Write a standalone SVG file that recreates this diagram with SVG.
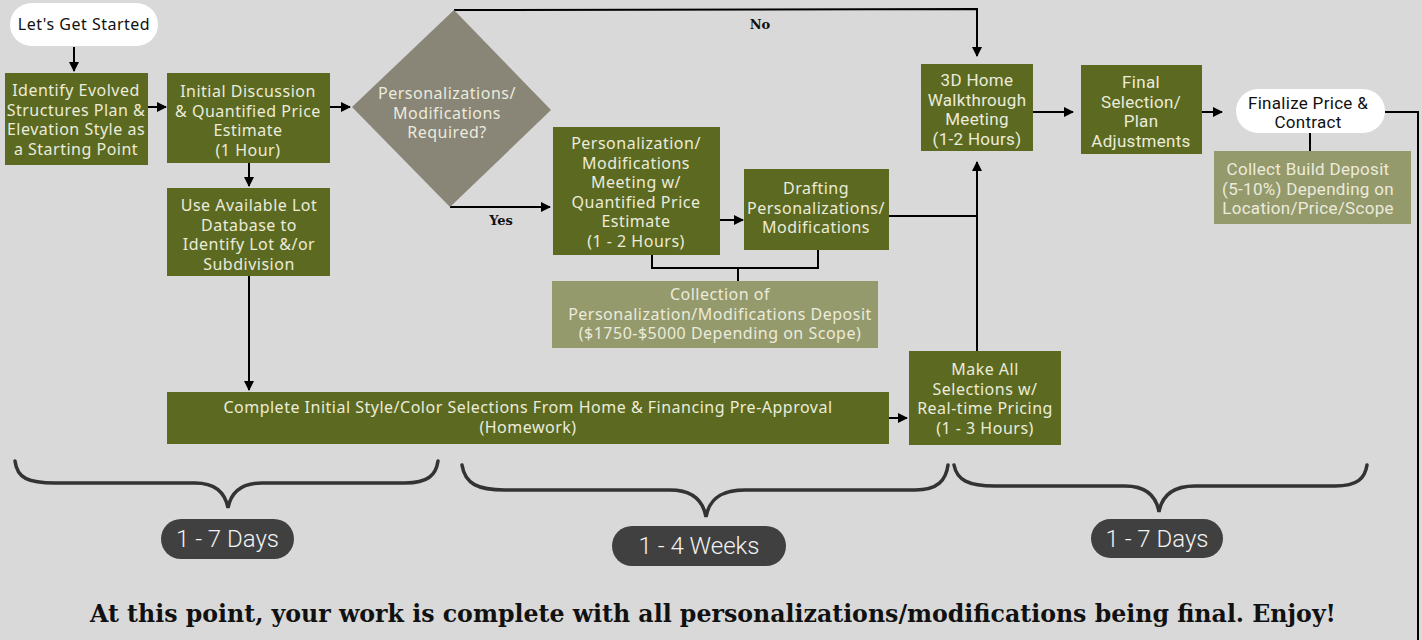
<svg xmlns="http://www.w3.org/2000/svg" width="1422" height="640" viewBox="0 0 1422 640">
<defs>
<marker id="ah" viewBox="0 0 10 10" refX="9" refY="5" markerWidth="10" markerHeight="10" markerUnits="userSpaceOnUse" orient="auto">
<path d="M0,0 L10,5 L0,10 Z" fill="#000"/>
</marker>
<style>
.g{fill:#5b6a20}
.lg{fill:#949a6c}
.t{font-family:"Noto Sans","DejaVu Sans",sans-serif;font-size:16px;letter-spacing:0.5px;fill:#ecebdc;text-anchor:middle}
.tc{font-family:Roboto,"Liberation Sans",sans-serif;font-size:17px;letter-spacing:0.3px;fill:#ecebdc;text-anchor:middle}
.tk{fill:#111}
.ln{fill:none;stroke:#000;stroke-width:2}
.br{fill:none;stroke:#333;stroke-width:3.5;stroke-linecap:round}
.pill{fill:#404040}
.pt{font-family:Roboto,"Liberation Sans",sans-serif;font-size:24px;fill:#f2f2f2;text-anchor:middle;font-weight:300}
.lab{font-family:"DejaVu Serif",serif;font-weight:bold;font-size:13px;fill:#111;text-anchor:middle}
</style>
</defs>
<rect width="1422" height="640" fill="#d9d9d9"/>

<g id="connectors">
<line class="ln" x1="74" y1="47" x2="74" y2="71" marker-end="url(#ah)"/>
<line class="ln" x1="148" y1="107" x2="166" y2="107" marker-end="url(#ah)"/>
<line class="ln" x1="330" y1="107" x2="350" y2="107" marker-end="url(#ah)"/>
<line class="ln" x1="249" y1="163" x2="249" y2="186" marker-end="url(#ah)"/>
<line class="ln" x1="249" y1="276" x2="249" y2="390" marker-end="url(#ah)"/>
<polyline class="ln" points="454,10 977,9 977,56" marker-end="url(#ah)"/>
<polyline class="ln" points="450,207 550,207" marker-end="url(#ah)"/>
<line class="ln" x1="720" y1="220" x2="743" y2="220" marker-end="url(#ah)"/>
<polyline class="ln" points="652,255 652,268 818,268 818,250"/>
<line class="ln" x1="738" y1="268" x2="738" y2="281"/>
<line class="ln" x1="889" y1="216" x2="977" y2="216"/>
<line class="ln" x1="977" y1="351" x2="977" y2="162" marker-end="url(#ah)"/>
<line class="ln" x1="889" y1="418" x2="907" y2="418" marker-end="url(#ah)"/>
<line class="ln" x1="1033" y1="112" x2="1073" y2="112" marker-end="url(#ah)"/>
<line class="ln" x1="1202" y1="112" x2="1222" y2="112" marker-end="url(#ah)"/>
<line class="ln" x1="1310" y1="133" x2="1310" y2="151"/>
<polyline class="ln" points="1385,112 1418,112 1418,640"/>
<text class="lab" x="760" y="29">No</text>
<text class="lab" x="501" y="225">Yes</text>
</g>

<g id="start">
<rect x="10" y="3" width="148" height="43" rx="21.5" fill="#fff"/>
<text class="t tk" x="84" y="30">Let's Get Started</text>
</g>

<g id="identify">
<rect class="g" x="5" y="73" width="143" height="92"/>
<text class="t" x="76"><tspan x="76" y="96">Identify Evolved</tspan><tspan x="76" y="115.5">Structures Plan &amp;</tspan><tspan x="76" y="135">Elevation Style as</tspan><tspan x="76" y="154.5">a Starting Point</tspan></text>
</g>

<g id="initial">
<rect class="g" x="167" y="73" width="163" height="90"/>
<text class="t" x="248"><tspan x="248" y="97">Initial Discussion</tspan><tspan x="248" y="116.5">&amp; Quantified Price</tspan><tspan x="248" y="136">Estimate</tspan><tspan x="248" y="155.5">(1 Hour)</tspan></text>
</g>

<g id="lot">
<rect class="g" x="167" y="188" width="163" height="88"/>
<text class="t" x="249"><tspan x="249" y="211">Use Available Lot</tspan><tspan x="249" y="230.5">Database to</tspan><tspan x="249" y="250">Identify Lot &amp;/or</tspan><tspan x="249" y="269.5">Subdivision</tspan></text>
</g>

<g id="decision">
<polygon points="454,10 551,110 450,207 352,107" fill="#898577"/>
<text class="t" x="447"><tspan x="447" y="99">Personalizations/</tspan><tspan x="447" y="118.5">Modifications</tspan><tspan x="447" y="138">Required?</tspan></text>
</g>

<g id="meeting">
<rect class="g" x="553" y="127" width="167" height="128"/>
<text class="t" x="636"><tspan x="636" y="149">Personalization/</tspan><tspan x="636" y="168.5">Modifications</tspan><tspan x="636" y="188">Meeting w/</tspan><tspan x="636" y="207.5">Quantified Price</tspan><tspan x="636" y="227">Estimate</tspan><tspan x="636" y="246.5">(1 - 2 Hours)</tspan></text>
</g>

<g id="drafting">
<rect class="g" x="744" y="169" width="145" height="81"/>
<text class="t" x="816"><tspan x="816" y="194">Drafting</tspan><tspan x="816" y="213.5">Personalizations/</tspan><tspan x="816" y="233">Modifications</tspan></text>
</g>

<g id="deposit">
<rect class="lg" x="552" y="281" width="326" height="67"/>
<text class="t" x="720"><tspan x="720" y="300">Collection of</tspan><tspan x="720" y="319.5">Personalization/Modifications Deposit</tspan><tspan x="720" y="339">($1750-$5000 Depending on Scope)</tspan></text>
</g>

<g id="homework">
<rect class="g" x="167" y="392" width="722" height="52"/>
<text class="t" x="528"><tspan x="528" y="413">Complete Initial Style/Color Selections From Home &amp; Financing Pre-Approval</tspan><tspan x="528" y="432.5">(Homework)</tspan></text>
</g>

<g id="selections">
<rect class="g" x="909" y="351" width="152" height="94"/>
<text class="t" x="985"><tspan x="985" y="375">Make All</tspan><tspan x="985" y="394.5">Selections w/</tspan><tspan x="985" y="414">Real-time Pricing</tspan><tspan x="985" y="433.5">(1 - 3 Hours)</tspan></text>
</g>

<g id="walkthrough">
<rect class="g" x="921" y="64" width="112" height="87"/>
<text class="tc" x="977"><tspan x="977" y="86">3D Home</tspan><tspan x="977" y="105.5">Walkthrough</tspan><tspan x="977" y="125">Meeting</tspan><tspan x="977" y="144.5">(1-2 Hours)</tspan></text>
</g>

<g id="final">
<rect class="g" x="1081" y="65" width="121" height="89"/>
<text class="tc" x="1141"><tspan x="1141" y="88">Final</tspan><tspan x="1141" y="107.5">Selection/</tspan><tspan x="1141" y="127">Plan</tspan><tspan x="1141" y="146.5">Adjustments</tspan></text>
</g>

<g id="contract">
<rect x="1236" y="89" width="149" height="44" rx="22" fill="#fff"/>
<text class="tc tk" x="1308"><tspan x="1308" y="108.5">Finalize Price &amp;</tspan><tspan x="1308" y="128">Contract</tspan></text>
</g>

<g id="builddeposit">
<rect class="lg" x="1214" y="151" width="197" height="73"/>
<text class="tc" x="1308"><tspan x="1308" y="175">Collect Build Deposit</tspan><tspan x="1308" y="194.5">(5-10%) Depending on</tspan><tspan x="1308" y="214">Location/Price/Scope</tspan></text>
</g>

<g id="braces">
<path class="br" d="M15,461 C17,478 28,483 55,483 L195,483 C215,483 225,492 228,508 C231,492 241,483 262,483 L405,483 C428,483 436,475 438,461"/>
<path class="br" d="M462,465 C465,484 478,490 505,490 L670,490 C692,490 703,500 706,517 C709,500 720,490 745,490 L915,490 C938,490 946,480 948,465"/>
<path class="br" d="M954,465 C957,480 968,486 995,486 L1125,486 C1145,486 1156,495 1159,512 C1162,495 1173,486 1195,486 L1335,486 C1358,486 1365,478 1367,465"/>
</g>

<g id="pill1">
<rect class="pill" x="161" y="519" width="133" height="40" rx="20"/>
<text class="pt" x="227.5" y="547">1 - 7 Days</text>
</g>
<g id="pill2">
<rect class="pill" x="612" y="526" width="174" height="40" rx="20"/>
<text class="pt" x="699" y="554">1 - 4 Weeks</text>
</g>
<g id="pill3">
<rect class="pill" x="1091" y="519" width="132" height="39" rx="19.5"/>
<text class="pt" x="1157" y="547">1 - 7 Days</text>
</g>

<text x="713" y="622" font-family="'DejaVu Serif',serif" font-weight="bold" font-size="24" fill="#111" text-anchor="middle" textLength="1246" lengthAdjust="spacingAndGlyphs">At this point, your work is complete with all personalizations/modifications being final. Enjoy!</text>
</svg>
